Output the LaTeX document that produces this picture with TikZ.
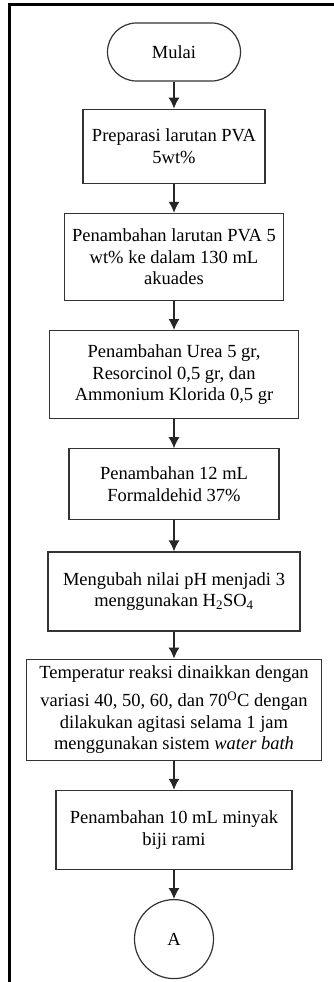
\documentclass[tikz,border=0pt]{standalone}
\usepackage{fontspec}
\setmainfont{Liberation Serif}
\usepackage{tikz}
\usetikzlibrary{positioning, arrows.meta}
\tikzset{
    terminal/.style={rectangle, draw=black!80, line width=1.2pt, rounded corners=29pt, fill=white, align=center, minimum width=133pt, minimum height=58pt},
    process/.style={rectangle, draw=black!80, line width=1.2pt, fill=white, align=center, inner sep=4pt},
    connector/.style={circle, draw=black!80, line width=1.2pt, fill=white, minimum size=79pt, inner sep=0pt},
    arrow/.style={-{Latex[length=11pt, width=11pt]}, line width=1.3pt, draw=black!85},
    frame/.style={line width=3pt, draw=black}
}

\begin{document}
\begin{tikzpicture}[font=\fontsize{18.5}{21.5}\selectfont, x=1pt, y=1pt]
        \useasboundingbox (0,0) rectangle (334,-982);
        % Frame
        \draw[frame] (334,-5) -- (9.5,-5) -- (9.5,-982);

        % Steps
        \node[terminal] (Start) at (174,-52) {Mulai};
        \node[process, below=27pt of Start, minimum width=182pt, minimum height=74pt] (Prep) {Preparasi larutan PVA\\5wt\%};
        \node[process, below=29pt of Prep, minimum width=219pt, minimum height=87pt] (AddPVA) {Penambahan larutan PVA 5\\wt\% ke dalam 130 mL\\akuades};
        \node[process, below=29pt of AddPVA, minimum width=249pt, minimum height=88pt] (AddUrea) {Penambahan Urea 5 gr,\\Resorcinol 0,5 gr, dan\\Ammonium Klorida 0,5 gr};
        \node[process, below=29pt of AddUrea, minimum width=210pt, minimum height=71pt] (AddForm) {Penambahan 12 mL\\Formaldehid 37\%};
        \node[process, below=31pt of AddForm, minimum width=252pt, minimum height=79pt] (SetPH) {Mengubah nilai pH menjadi 3\\menggunakan H\textsubscript{2}SO\textsubscript{4}};
        \node[process, below=27pt of SetPH, minimum width=295pt, minimum height=101pt] (Heat) {Temperatur reaksi dinaikkan dengan\\[7pt]variasi 40, 50, 60, dan 70\textsuperscript{O}C dengan\\dilakukan agitasi selama 1 jam\\menggunakan sistem \textit{water bath}};
        \node[process, below=29pt of Heat, minimum width=236pt, minimum height=79pt] (AddOil) {Penambahan 10 mL minyak\\biji rami};
        \node[connector, below=29pt of AddOil] (ConA) {A};

        % Connections
        \draw[arrow] (Start) -- (Prep);
        \draw[arrow] (Prep) -- (AddPVA);
        \draw[arrow] (AddPVA) -- (AddUrea);
        \draw[arrow] (AddUrea) -- (AddForm);
        \draw[arrow] (AddForm) -- (SetPH);
        \draw[arrow] (SetPH) -- (Heat);
        \draw[arrow] (Heat) -- (AddOil);
        \draw[arrow] (AddOil) -- (ConA);
    \end{tikzpicture}
\end{document}
